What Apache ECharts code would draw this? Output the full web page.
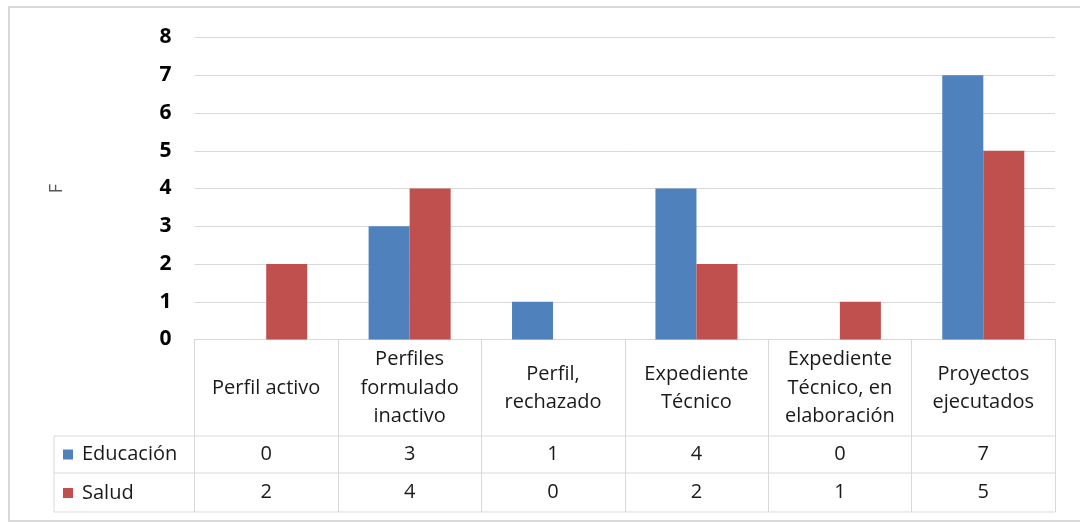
<!DOCTYPE html>
<html>
<head>
<meta charset="utf-8">
<script src="https://cdn.jsdelivr.net/npm/echarts@6/dist/echarts.min.js"></script>
<style>
  html, body { margin: 0; padding: 0; background: #ffffff; }
  #chart { width: 1080px; height: 523px; }
</style>
</head>
<body>
<div id="chart"></div>
<script>
// Project status by sector
const categories = [
  'Perfil activo',
  'Perfiles\nformulado\ninactivo',
  'Perfil,\nrechazado',
  'Expediente\nTécnico',
  'Expediente\nTécnico, en\nelaboración',
  'Proyectos\nejecutados'
];
const seriesNames = ['Educación', 'Salud'];
const educacion = [0, 3, 1, 4, 0, 7];
const salud = [2, 4, 0, 2, 1, 5];
const yTicks = { min: 0, max: 8, interval: 1 };

// Layout of the plot and the data table under it
const W = 1080, H = 523;
const gridLeft = 194.5, gridRight = 25, gridTop = 37.5, gridBottom = 183.5;
const axisY = H - gridBottom;           // 339.5
const headerBottom = 436;
const row1Bottom = 473;
const row2Bottom = 512;
const legendColLeft = 54;
const FONT = 'Open Sans';
const TEXT = '#1a1a1a';
const LINE = '#d9d9d9';

const chart = echarts.init(document.getElementById('chart'), null, { renderer: 'canvas' });

function valueAxis(values, offset, margin) {
  return {
    type: 'category',
    data: categories,
    position: 'bottom',
    offset: offset,
    axisLine: { show: false },
    axisTick: { show: false },
    splitLine: { show: false },
    axisLabel: {
      interval: 0,
      margin: margin,
      verticalAlign: 'middle',
      fontFamily: FONT,
      fontSize: 20,
      color: TEXT,
      formatter: (v, i) => String(values[i])
    }
  };
}

const hLine = (x1, x2, y) => ({
  type: 'line', silent: true,
  shape: { x1: x1, y1: y, x2: x2, y2: y },
  style: { stroke: LINE, lineWidth: 1 }
});
const vLine = (x, y1, y2) => ({
  type: 'line', silent: true,
  shape: { x1: x, y1: y1, x2: x, y2: y2 },
  style: { stroke: LINE, lineWidth: 1 }
});

chart.setOption({
  animation: false,
  backgroundColor: '#ffffff',
  color: ['#4F81BD', '#C0504D'],
  grid: { left: gridLeft, right: gridRight, top: gridTop, bottom: gridBottom, containLabel: false },
  legend: {
    data: seriesNames,
    orient: 'vertical',
    left: 63,
    top: 444.5,
    padding: 0,
    icon: 'rect',
    itemWidth: 10,
    itemHeight: 10,
    itemGap: 18.5,
    selectedMode: false,
    textStyle: { fontFamily: FONT, fontSize: 20, lineHeight: 20, color: TEXT, padding: [0, 0, 0, 4] }
  },
  xAxis: [
    {
      type: 'category',
      data: categories,
      position: 'bottom',
      axisLine: { show: true, lineStyle: { color: LINE, width: 1 } },
      axisTick: { show: true, interval: 0, length: row2Bottom - axisY, lineStyle: { color: LINE, width: 1 } },
      axisLabel: {
        interval: 0,
        margin: 48.5,
        verticalAlign: 'middle',
        fontFamily: FONT,
        fontSize: 20,
        lineHeight: 28.3,
        color: TEXT
      }
    },
    valueAxis(educacion, headerBottom - axisY, (headerBottom + row1Bottom) / 2 - headerBottom),
    valueAxis(salud, row1Bottom - axisY, (row1Bottom + row2Bottom) / 2 - row1Bottom)
  ],
  yAxis: {
    type: 'value',
    min: yTicks.min,
    max: yTicks.max,
    interval: yTicks.interval,
    name: 'F',
    nameLocation: 'middle',
    nameRotate: 90,
    nameGap: 129,
    nameTextStyle: { fontFamily: FONT, fontSize: 18, color: '#595959' },
    axisLine: { show: false },
    axisTick: { show: false },
    axisLabel: { margin: 23, fontFamily: FONT, fontWeight: 'bold', fontSize: 21, color: '#000000' },
    splitLine: { lineStyle: { color: LINE, width: 1 } }
  },
  series: [
    { name: seriesNames[0], type: 'bar', data: educacion, xAxisIndex: 0, barGap: '0%', barCategoryGap: '42.8%' },
    { name: seriesNames[1], type: 'bar', data: salud, xAxisIndex: 0, barGap: '0%', barCategoryGap: '42.8%' }
  ],
  graphic: [
    {
      type: 'rect', silent: true,
      shape: { x: 9, y: 7, width: W + 20, height: 514 },
      style: { fill: 'none', stroke: LINE, lineWidth: 2 }
    },
    hLine(legendColLeft, W - gridRight, headerBottom),
    hLine(legendColLeft, W - gridRight, row1Bottom),
    hLine(legendColLeft, W - gridRight, row2Bottom),
    vLine(legendColLeft, headerBottom, row2Bottom)
  ]
});
</script>
</body>
</html>
